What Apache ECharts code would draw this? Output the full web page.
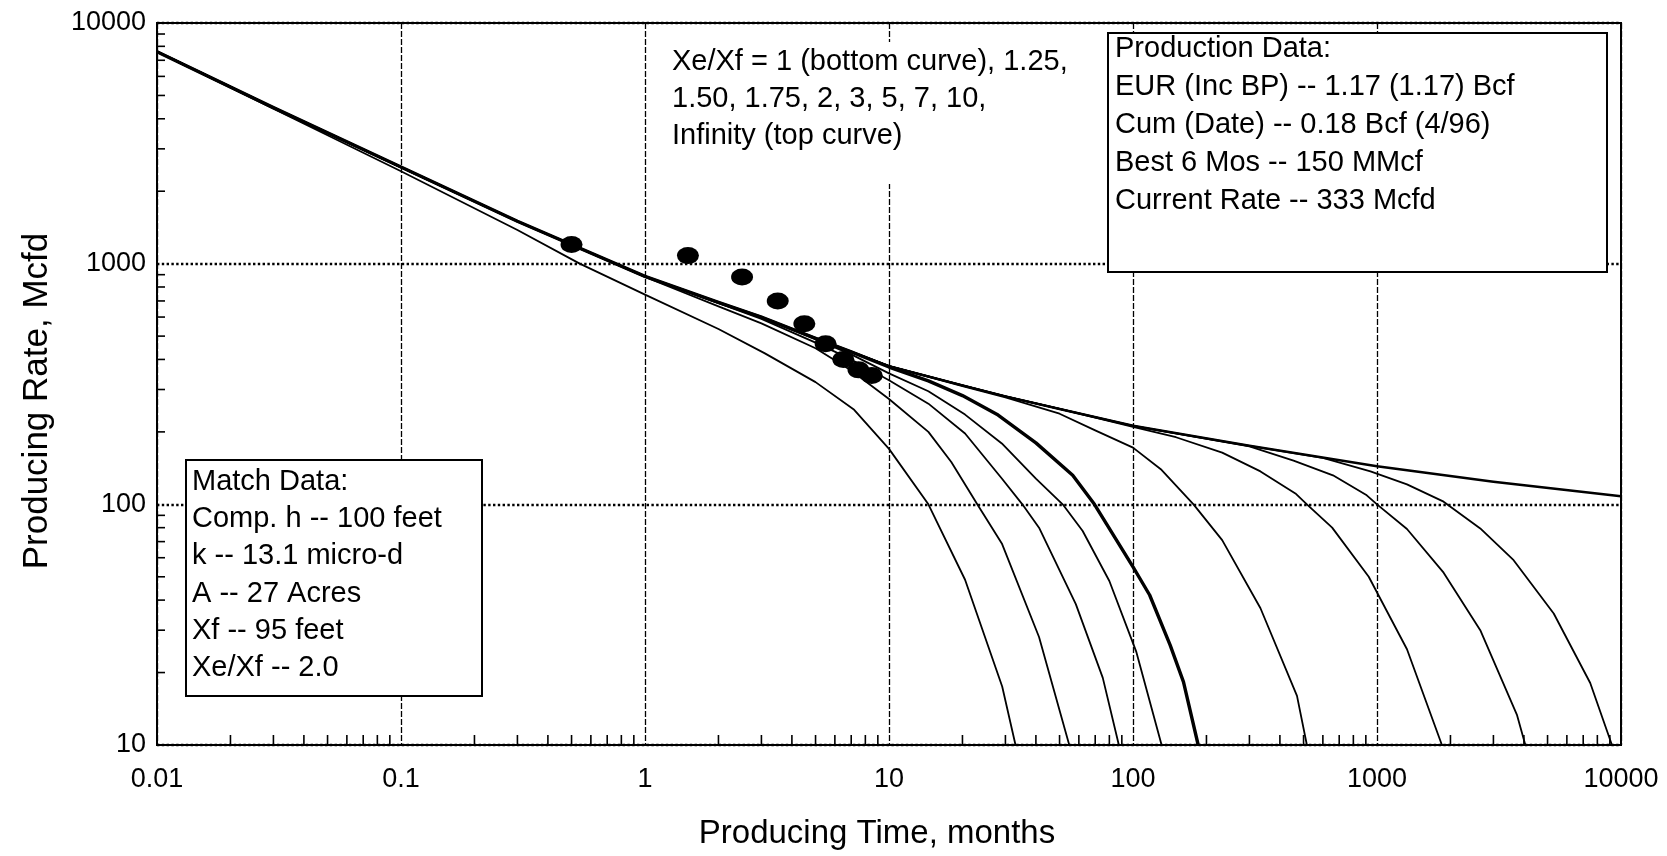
<!DOCTYPE html>
<html>
<head>
<meta charset="utf-8">
<script src="https://cdn.jsdelivr.net/npm/echarts@6/dist/echarts.min.js"></script>
<style>
  html, body { margin: 0; padding: 0; background: #fff; }
  #chart { width: 1667px; height: 856px; }
</style>
</head>
<body>
<div id="chart"></div>
<script>
// Tick labels
const timeTicks = ['0.01', '0.1', '1', '10', '100', '1000', '10000'];
const rateTicks = ['10', '100', '1000', '10000'];

// Log minor tick factors and the decades they repeat in
const minorFactors = [2, 3, 4, 5, 6, 7, 8, 9];
const timeDecades = [0.01, 0.1, 1, 10, 100, 1000];
const rateDecades = [10, 100, 1000];

// Early linear-flow segment shared by every type curve above Xe/Xf = 1 [months, Mcfd]
const linearFlow = [[0.01, 7600], [0.03, 4450], [0.1, 2520], [0.3, 1500]];

// Type curves, [months, Mcfd]
const xeXf100 = [[0.01, 7600], [0.03, 4400], [0.1, 2420], [0.3, 1380], [0.54, 1000], [1, 744], [2, 535], [3.1, 424], [5, 322], [7.2, 247], [10, 170], [14.5, 100], [20.5, 48.6], [29.1, 17.5], [33, 10]];
const xeXf125 = [[1, 880], [2, 665], [3, 565], [5, 445], [7, 360], [10, 274], [14.5, 200], [18, 150], [23, 100], [29, 68.8], [41.2, 28.1], [54.8, 10]];
const xeXf150 = [[1, 886], [2, 685], [3, 590], [5, 470], [7, 400], [10, 328], [14.5, 262], [20.5, 197], [29, 128], [35.2, 100], [41.2, 80], [58.3, 38.5], [75.2, 19], [87.5, 10]];
const xeXf175 = [[1, 886], [2, 690], [3, 598], [5, 485], [7, 420], [10, 350], [14.5, 295], [20.5, 236], [29, 179], [40, 128], [51.5, 100], [62.2, 77.5], [80, 48], [103, 24.5], [131, 10]];
const xeXf200 = [[1, 886], [2, 690], [3, 600], [5, 490], [7, 430], [10, 372], [14.5, 326], [20, 283], [28, 235], [40, 180], [56.6, 132], [69.5, 100], [100, 55], [117, 42], [142, 26], [161, 18.3], [185, 10]];
const xeXf300 = [[1, 886], [2, 690], [3, 600], [5, 490], [10, 375], [20, 310], [30, 278], [50, 238], [70, 203], [100, 172], [130, 140], [177, 100], [232, 71], [333, 37], [470, 16], [516, 10]];
const xeXf500 = [[1, 886], [2, 690], [3, 600], [5, 490], [10, 375], [20, 312], [30, 281], [50, 249], [100, 210], [150, 190], [232, 164], [333, 137], [463, 111], [516, 100], [655, 80], [925, 50], [1327, 25], [1845, 10]];
const xeXf700 = [[1, 886], [2, 690], [3, 600], [5, 490], [10, 375], [20, 312], [30, 281], [50, 249], [100, 212], [300, 174], [455, 152], [660, 132], [908, 109], [1000, 100], [1327, 79], [1875, 52], [2650, 30], [3750, 13.3], [4055, 10]];
const xeXf1000 = [[1, 886], [2, 690], [3, 600], [5, 490], [10, 375], [20, 312], [30, 281], [50, 249], [100, 212], [300, 175], [600, 156], [940, 137], [1327, 121], [1875, 102.6], [2650, 79.4], [3630, 58.6], [5300, 35.2], [7480, 18.1], [9180, 10]];
const xeXfInf = [[1, 886], [2, 690], [3, 600], [5, 490], [10, 375], [20, 312], [30, 281], [50, 249], [100, 212], [300, 175], [1000, 144], [3000, 124], [10000, 108]];

// Monthly production points
const prodMonths = [0.5, 1.5, 2.5, 3.5, 4.5, 5.5, 6.5, 7.5, 8.5];
const prodRates = [1200, 1080, 880, 700, 563, 465, 400, 362, 343];

// Annotation texts
const noteLines = ['Xe/Xf = 1 (bottom curve), 1.25,', '1.50, 1.75, 2, 3, 5, 7, 10,', 'Infinity (top curve)'];
const productionLines = ['Production Data:', 'EUR (Inc BP) -- 1.17 (1.17) Bcf', 'Cum (Date) -- 0.18 Bcf (4/96)', 'Best 6 Mos -- 150 MMcf', 'Current Rate -- 333 Mcfd'];
const matchLines = ['Match Data:', 'Comp. h -- 100 feet', 'k -- 13.1 micro-d', 'A -- 27 Acres', 'Xf -- 95 feet', 'Xe/Xf -- 2.0'];

const FONT = '"Liberation Sans", Arial, Helvetica, sans-serif';

const curves = [
  { name: 'Xe/Xf = 1', data: xeXf100, own: true, width: 1.8 },
  { name: 'Xe/Xf = 1.25', data: xeXf125, width: 1.8 },
  { name: 'Xe/Xf = 1.50', data: xeXf150, width: 1.8 },
  { name: 'Xe/Xf = 1.75', data: xeXf175, width: 1.8 },
  { name: 'Xe/Xf = 2', data: xeXf200, width: 3.4 },
  { name: 'Xe/Xf = 3', data: xeXf300, width: 1.8 },
  { name: 'Xe/Xf = 5', data: xeXf500, width: 1.8 },
  { name: 'Xe/Xf = 7', data: xeXf700, width: 1.8 },
  { name: 'Xe/Xf = 10', data: xeXf1000, width: 1.8 },
  { name: 'Xe/Xf = Infinity', data: xeXfInf, width: 2.5 }
];

const lineSeries = curves.map(c => ({
  name: c.name,
  type: 'line',
  data: c.own ? c.data : linearFlow.concat(c.data),
  showSymbol: false,
  smooth: false,
  lineStyle: { color: '#000', width: c.width, join: 'round' },
  z: c.width > 3 ? 4 : 3,
  silent: true
}));

const timeMinor = [];
timeDecades.forEach(d => minorFactors.forEach(f => timeMinor.push([d * f, 10])));
const rateMinor = [];
rateDecades.forEach(d => minorFactors.forEach(f => rateMinor.push([0.01, d * f])));

const tickSeries = [
  {
    type: 'custom', clip: false, silent: true, z: 5,
    data: timeMinor,
    renderItem: (params, api) => {
      const p = api.coord([api.value(0), api.value(1)]);
      return { type: 'line', shape: { x1: p[0], y1: p[1], x2: p[0], y2: p[1] - 10 }, style: { stroke: '#000', lineWidth: 1.6 } };
    }
  },
  {
    type: 'custom', clip: false, silent: true, z: 5,
    data: rateMinor,
    renderItem: (params, api) => {
      const p = api.coord([api.value(0), api.value(1)]);
      return { type: 'line', shape: { x1: p[0], y1: p[1], x2: p[0] + 8, y2: p[1] }, style: { stroke: '#000', lineWidth: 1.6 } };
    }
  }
];

const graphics = [];
// note text with its white backing
graphics.push({ type: 'rect', z: 20, shape: { x: 664, y: 42, width: 430, height: 142 }, style: { fill: '#fff' } });
noteLines.forEach((t, i) => graphics.push({
  type: 'text', z: 21, x: 672, y: 62 + i * 37,
  style: { text: t, font: '29px ' + FONT, fill: '#000', verticalAlign: 'middle' }
}));
// production data box
graphics.push({ type: 'rect', z: 20, shape: { x: 1108, y: 33, width: 499, height: 239 }, style: { fill: '#fff', stroke: '#000', lineWidth: 2 } });
productionLines.forEach((t, i) => graphics.push({
  type: 'text', z: 21, x: 1115, y: 49 + i * 38,
  style: { text: t, font: '29px ' + FONT, fill: '#000', verticalAlign: 'middle' }
}));
// match data box
graphics.push({ type: 'rect', z: 20, shape: { x: 186, y: 460, width: 296, height: 236 }, style: { fill: '#fff', stroke: '#000', lineWidth: 2 } });
matchLines.forEach((t, i) => graphics.push({
  type: 'text', z: 21, x: 192, y: 482 + i * 37.2,
  style: { text: t, font: '29px ' + FONT, fill: '#000', verticalAlign: 'middle' }
}));
// axis titles
graphics.push({
  type: 'text', z: 21, x: 37, y: 401, rotation: Math.PI / 2,
  style: { text: 'Producing Rate, Mcfd', font: '35px ' + FONT, fill: '#000', align: 'center', verticalAlign: 'middle' }
});
graphics.push({
  type: 'text', z: 21, x: 877, y: 834,
  style: { text: 'Producing Time, months', font: '33px ' + FONT, fill: '#000', align: 'center', verticalAlign: 'middle' }
});

const chart = echarts.init(document.getElementById('chart'), null, { renderer: 'canvas' });
chart.setOption({
  animation: false,
  backgroundColor: '#fff',
  grid: { left: 157, right: 46, top: 23, bottom: 111, show: true, borderColor: '#000', borderWidth: 2, backgroundColor: 'transparent' },
  xAxis: {
    type: 'log', logBase: 10, min: 0.01, max: 10000, interval: 1,
    axisLine: { show: true, lineStyle: { color: '#000', width: 2 } },
    axisTick: { show: false },
    axisLabel: {
      color: '#000', fontFamily: FONT, fontSize: 27, margin: 21,
      formatter: (v, i) => timeTicks[i] !== undefined ? timeTicks[i] : ''
    },
    splitLine: { show: true, lineStyle: { color: '#000', width: 1.3, type: [6, 2] } },
    minorTick: { show: false }
  },
  yAxis: {
    type: 'log', logBase: 10, min: 10, max: 10000, interval: 1,
    axisLine: { show: true, lineStyle: { color: '#000', width: 2 } },
    axisTick: { show: false },
    axisLabel: {
      color: '#000', fontFamily: FONT, fontSize: 27, margin: 11,
      formatter: (v, i) => rateTicks[i] !== undefined ? rateTicks[i] : ''
    },
    splitLine: { show: true, lineStyle: { color: '#000', width: 2.4, type: [2.4, 2.4] } }
  },
  graphic: graphics,
  series: lineSeries.concat(tickSeries, [{
    name: 'Production',
    type: 'scatter',
    data: prodMonths.map((t, i) => [t, prodRates[i]]),
    symbol: 'circle',
    symbolSize: [22, 17],
    itemStyle: { color: '#000', opacity: 1 },
    z: 6,
    silent: true
  }])
});
</script>
</body>
</html>
